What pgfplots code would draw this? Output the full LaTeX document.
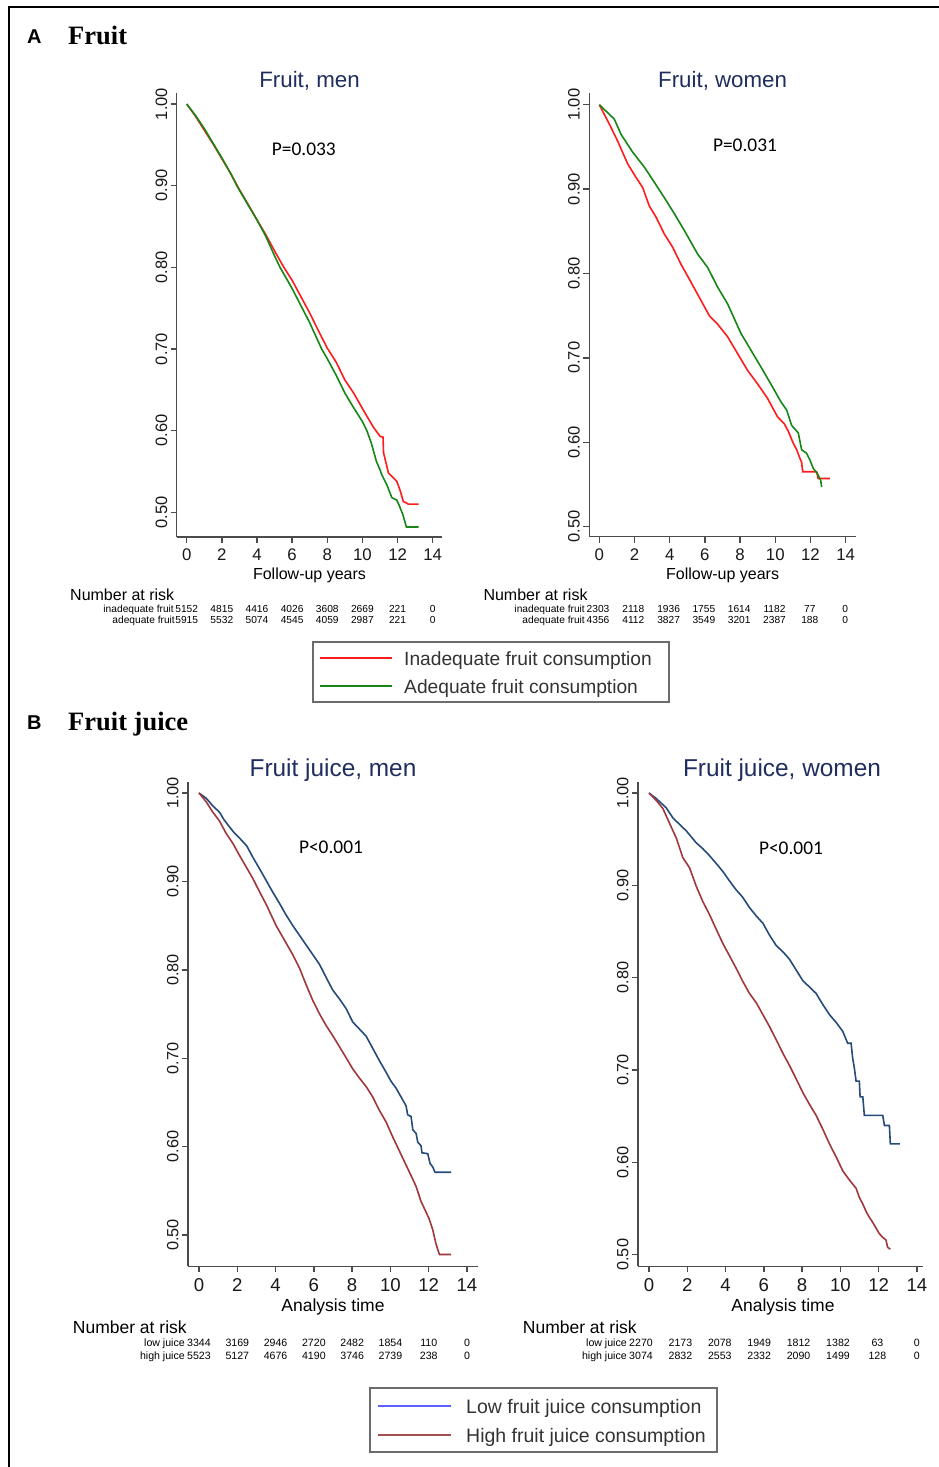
\documentclass[border=0pt]{standalone}
\usepackage{fontspec}
\setmainfont{Liberation Sans}
\newfontfamily\timesf{Liberation Serif}
\newfontfamily\calib{Carlito}
\usepackage{pgfplots}
\pgfplotsset{compat=1.18}
\newcommand\fs[1]{\fontsize{#1}{#1}\selectfont}
\definecolor{titleblue}{RGB}{32,46,95}
\definecolor{kmred}{RGB}{255,28,28}
\definecolor{kmgreen}{RGB}{22,135,22}
\definecolor{jblue}{RGB}{38,74,122}
\definecolor{jred}{RGB}{160,55,60}
\definecolor{legblue}{RGB}{95,95,255}
\definecolor{legred}{RGB}{165,80,80}
\definecolor{axisgray}{RGB}{75,75,75}
\pgfplotsset{
 km/.style={
  scale only axis,
  axis x line*=bottom, axis y line*=left,
  axis line style={draw=axisgray, line width=1.4pt, -},
  tick style={draw=axisgray, line width=1.4pt},
  tick align=outside, major tick length=6pt,
  xtick={0,2,4,6,8,10,12,14},
  ytick={0.5,0.6,0.7,0.8,0.9,1.0},
  yticklabel style={rotate=90, anchor=south, text=black!90, /pgf/number format/fixed, /pgf/number format/fixed zerofill, /pgf/number format/precision=2},
  xticklabel style={text=black!90, yshift=-2.5pt},
  /pgf/number format/assume math mode=true,
  every axis plot/.append style={line width=1.6pt},
 },
}
\begin{document}
\begin{tikzpicture}
\useasboundingbox (0pt,0pt) rectangle (939pt,-1467pt);
\fill[white] (0pt,0pt) rectangle (939pt,-1467pt);

% ---------- A: Fruit, men ----------
\begin{axis}[km, at={(176.7pt,-537pt)}, anchor=south west,
  width=265pt, height=444pt,
  xmin=-0.57, xmax=14.51, ymin=0.4697, ymax=1.0135,
  xticklabel style={font=\fs{16.8}}, yticklabel style={font=\fs{16.5}}]
\addplot[kmred] table {
0 1.000
0.5 0.985
1.0 0.968
1.5 0.951
2.0 0.933
2.5 0.915
3.0 0.895
3.5 0.877
4.0 0.858
4.5 0.840
5.0 0.820
5.5 0.801
6.0 0.784
6.5 0.764
7.0 0.744
7.5 0.722
8.0 0.701
8.5 0.684
9.0 0.662
9.5 0.646
10.0 0.627
10.6 0.605
11.0 0.593
11.17 0.592
11.2 0.573
11.48 0.548
11.67 0.544
11.95 0.538
12.14 0.527
12.33 0.513
12.45 0.512
12.6 0.510
13.19 0.510
};
\addplot[kmgreen] table {
0 1.000
0.5 0.986
1.0 0.970
1.5 0.952
2.0 0.934
2.5 0.915
2.85 0.900
3.5 0.876
4.0 0.858
4.5 0.838
5.0 0.814
5.31 0.800
6.0 0.774
6.5 0.753
7.0 0.732
7.68 0.700
8.0 0.688
8.5 0.668
9.0 0.646
9.5 0.628
10.0 0.611
10.25 0.600
10.5 0.585
10.8 0.562
11.0 0.552
11.1 0.546
11.4 0.533
11.67 0.518
11.95 0.515
12.1 0.508
12.3 0.497
12.5 0.482
13.19 0.482
};
\end{axis}

% ---------- A: Fruit, women ----------
\begin{axis}[km, at={(589.3pt,-536.7pt)}, anchor=south west,
  width=266.7pt, height=443.7pt,
  xmin=-0.57, xmax=14.59, ymin=0.488, ymax=1.0139,
  xticklabel style={font=\fs{16.8}}, yticklabel style={font=\fs{16.5}}]
\addplot[kmred] table {
0 1.000
0.57 0.977
1.04 0.957
1.61 0.930
2.08 0.914
2.46 0.902
2.84 0.880
3.22 0.867
3.69 0.847
4.17 0.831
4.64 0.811
5.2 0.790
5.78 0.768
6.25 0.750
6.72 0.740
7.29 0.725
7.86 0.705
8.43 0.685
9.0 0.669
9.56 0.652
10.13 0.630
10.51 0.622
10.74 0.613
11.02 0.599
11.22 0.591
11.40 0.581
11.50 0.576
11.56 0.565
12.35 0.565
12.44 0.557
13.11 0.557
};
\addplot[kmgreen] table {
0 1.000
0.85 0.983
1.23 0.965
1.89 0.944
2.56 0.926
3.13 0.908
3.69 0.890
4.26 0.871
4.83 0.851
5.59 0.823
6.16 0.807
6.72 0.784
7.29 0.764
8.05 0.729
8.62 0.709
9.19 0.689
9.75 0.669
10.32 0.648
10.65 0.638
10.93 0.620
11.31 0.611
11.50 0.591
11.78 0.587
11.97 0.579
12.16 0.569
12.39 0.563
12.58 0.555
12.64 0.547
};
\end{axis}

% ---------- B: Fruit juice, men ----------
\begin{axis}[km, at={(188pt,-1266.2pt)}, anchor=south west,
  width=289.7pt, height=483.9pt,
  xmin=-0.574, xmax=14.56, ymin=0.4647, ymax=1.0121,
  xticklabel style={font=\fs{18.6}}, yticklabel style={font=\fs{16.3}}]
\addplot[jblue] table {
0 1.000
0.38 0.994
0.7 0.986
1.08 0.978
1.3 0.970
1.51 0.964
1.8 0.956
2.12 0.949
2.5 0.940
2.82 0.927
3.2 0.913
3.51 0.901
3.85 0.888
4.21 0.875
4.55 0.862
4.90 0.850
5.25 0.839
5.60 0.828
5.95 0.817
6.30 0.806
6.65 0.791
6.99 0.777
7.34 0.767
7.69 0.756
8.03 0.741
8.38 0.733
8.73 0.725
9.08 0.711
9.43 0.697
9.75 0.685
10.03 0.674
10.3 0.666
10.56 0.656
10.82 0.646
10.90 0.636
11.08 0.634
11.17 0.619
11.34 0.615
11.43 0.605
11.60 0.601
11.65 0.593
11.95 0.592
12.07 0.581
12.21 0.577
12.33 0.571
13.17 0.571
};
\addplot[jred] table {
0 1.000
0.38 0.990
0.7 0.979
1.08 0.968
1.4 0.955
1.77 0.943
2.1 0.930
2.45 0.917
2.82 0.903
3.17 0.888
3.51 0.874
4.03 0.850
4.56 0.830
4.9 0.817
5.25 0.802
5.6 0.783
5.95 0.765
6.3 0.750
6.64 0.737
7.0 0.725
7.34 0.713
7.7 0.700
8.03 0.688
8.4 0.677
8.73 0.668
9.08 0.656
9.4 0.642
9.77 0.628
10.12 0.611
10.47 0.595
10.82 0.579
11.17 0.563
11.34 0.555
11.60 0.538
11.86 0.526
12.03 0.518
12.21 0.506
12.38 0.490
12.56 0.478
13.17 0.478
};
\end{axis}

% ---------- B: Fruit juice, women ----------
\begin{axis}[km, at={(638pt,-1266.2pt)}, anchor=south west,
  width=284.7pt, height=483.9pt,
  xmin=-0.574, xmax=14.3, ymin=0.4876, ymax=1.0116,
  xticklabel style={font=\fs{18.6}}, yticklabel style={font=\fs{16.3}}]
\addplot[jblue] table {
0 1.000
0.38 0.994
0.9 0.984
1.25 0.973
1.6 0.966
1.95 0.959
2.47 0.946
2.8 0.940
3.17 0.932
3.5 0.924
3.86 0.915
4.2 0.905
4.56 0.895
4.9 0.887
5.25 0.876
5.6 0.867
5.95 0.859
6.3 0.846
6.64 0.835
7.0 0.828
7.34 0.820
7.7 0.808
8.03 0.797
8.38 0.790
8.73 0.783
9.08 0.771
9.43 0.760
9.8 0.751
10.12 0.742
10.38 0.729
10.56 0.729
10.64 0.713
10.73 0.702
10.82 0.688
10.99 0.688
11.03 0.671
11.17 0.671
11.25 0.651
12.21 0.651
12.30 0.640
12.56 0.640
12.61 0.620
13.11 0.620
};
\addplot[jred] table {
0 1.000
0.38 0.992
0.73 0.983
1.08 0.967
1.43 0.951
1.77 0.930
2.12 0.919
2.47 0.899
2.8 0.883
3.17 0.868
3.5 0.853
3.86 0.837
4.2 0.824
4.56 0.810
4.9 0.796
5.25 0.783
5.6 0.773
5.95 0.760
6.3 0.747
6.64 0.733
7.0 0.718
7.34 0.705
7.7 0.690
8.03 0.676
8.38 0.663
8.73 0.651
9.08 0.636
9.43 0.620
9.8 0.605
10.12 0.591
10.47 0.581
10.82 0.572
10.99 0.562
11.17 0.555
11.34 0.547
11.5 0.541
11.69 0.535
11.86 0.529
12.03 0.523
12.2 0.519
12.38 0.516
12.47 0.508
12.61 0.506
};
\end{axis}

% ---------- texts ----------
\begin{scope}[x=1pt, y=-1pt, every node/.style={inner sep=0pt}]
\draw[line width=2pt, black] (9,1470) -- (9,7) -- (942,7);
\node[anchor=base west, font=\bfseries\fs{20}] at (27,43) {A};
\node[anchor=base west, font=\timesf\bfseries\fs{26.5}] at (68,44) {Fruit};
\node[anchor=base west, font=\bfseries\fs{20}] at (27,729) {B};
\node[anchor=base west, font=\timesf\bfseries\fs{26.5}] at (68,730) {Fruit juice};

\node[anchor=base, font=\fs{22.3}, text=titleblue] at (309.5,87) {Fruit, men};
\node[anchor=base, font=\fs{22.3}, text=titleblue] at (722.6,87) {Fruit, women};
\node[anchor=base, font=\fs{24.4}, text=titleblue] at (333,776) {Fruit juice, men};
\node[anchor=base, font=\fs{24.4}, text=titleblue] at (782,776) {Fruit juice, women};

\node[anchor=base, font=\calib\fs{19.4}] at (303.8,155) {P=0.033};
\node[anchor=base, font=\calib\fs{19.4}] at (745,151.5) {P=0.031};
\node[anchor=base, font=\calib\fs{19.4}] at (331,853) {P<0.001};
\node[anchor=base, font=\calib\fs{19.4}] at (791,854) {P<0.001};

\node[anchor=base, font=\fs{16}] at (309.5,579) {Follow-up years};
\node[anchor=base, font=\fs{16}] at (722.6,579) {Follow-up years};
\node[anchor=base, font=\fs{17.5}] at (333,1311) {Analysis time};
\node[anchor=base, font=\fs{17.5}] at (783,1311) {Analysis time};

\node[anchor=base west, font=\fs{16}] at (70,600) {Number at risk};
\node[anchor=base west, font=\fs{16}] at (483.3,600) {Number at risk};
\node[anchor=base west, font=\fs{17.5}] at (72.7,1333) {Number at risk};
\node[anchor=base west, font=\fs{17.5}] at (522.7,1333) {Number at risk};

% risk tables A
\node[anchor=base east, font=\fs{10.2}] at (174,612.5) {inadequate fruit};
\node[anchor=base east, font=\fs{10.2}] at (175,623.5) {adequate fruit};
\foreach \v [count=\i from 0] in {5152,4815,4416,4026,3608,2669,221,0}
  \node[anchor=base, font=\fs{10.2}] at ({186.7+\i*35.14},612.5) {\v};
\foreach \v [count=\i from 0] in {5915,5532,5074,4545,4059,2987,221,0}
  \node[anchor=base, font=\fs{10.2}] at ({186.7+\i*35.14},623.5) {\v};
\node[anchor=base east, font=\fs{10.2}] at (585,612.5) {inadequate fruit};
\node[anchor=base east, font=\fs{10.2}] at (585,623.5) {adequate fruit};
\foreach \v [count=\i from 0] in {2303,2118,1936,1755,1614,1182,77,0}
  \node[anchor=base, font=\fs{10.2}] at ({598+\i*35.3},612.5) {\v};
\foreach \v [count=\i from 0] in {4356,4112,3827,3549,3201,2387,188,0}
  \node[anchor=base, font=\fs{10.2}] at ({598+\i*35.3},623.5) {\v};
% risk tables B
\node[anchor=base east, font=\fs{10.6}] at (185,1346.7) {low juice};
\node[anchor=base east, font=\fs{10.6}] at (185,1359.3) {high juice};
\foreach \v [count=\i from 0] in {3344,3169,2946,2720,2482,1854,110,0}
  \node[anchor=base, font=\fs{10.6}] at ({199+\i*38.29},1346.7) {\v};
\foreach \v [count=\i from 0] in {5523,5127,4676,4190,3746,2739,238,0}
  \node[anchor=base, font=\fs{10.6}] at ({199+\i*38.29},1359.3) {\v};
\node[anchor=base east, font=\fs{10.6}] at (627,1346.7) {low juice};
\node[anchor=base east, font=\fs{10.6}] at (627,1359.3) {high juice};
\foreach \v [count=\i from 0] in {2270,2173,2078,1949,1812,1382,63,0}
  \node[anchor=base, font=\fs{10.6}] at ({641+\i*39.4},1346.7) {\v};
\foreach \v [count=\i from 0] in {3074,2832,2553,2332,2090,1499,128,0}
  \node[anchor=base, font=\fs{10.6}] at ({641+\i*39.4},1359.3) {\v};

% legends
\draw[gray!85!black, line width=1.3pt] (313,642) rectangle (669,702);
\draw[kmred, line width=1.6pt] (320,658) -- (392,658);
\draw[kmgreen, line width=1.6pt] (320,686) -- (392,686);
\node[anchor=base west, font=\fs{19.2}, text=black!80] at (404,665) {Inadequate fruit consumption};
\node[anchor=base west, font=\fs{19.2}, text=black!80] at (404,693) {Adequate fruit consumption};
\draw[gray!85!black, line width=1.3pt] (370,1388) rectangle (717,1452);
\draw[legblue, line width=1.6pt] (378,1406) -- (451,1406);
\draw[legred, line width=1.6pt] (378,1435) -- (451,1435);
\node[anchor=base west, font=\fs{19.5}, text=black!80] at (466,1413) {Low fruit juice consumption};
\node[anchor=base west, font=\fs{19.5}, text=black!80] at (466,1442) {High fruit juice consumption};
\end{scope}
\end{tikzpicture}
\end{document}
